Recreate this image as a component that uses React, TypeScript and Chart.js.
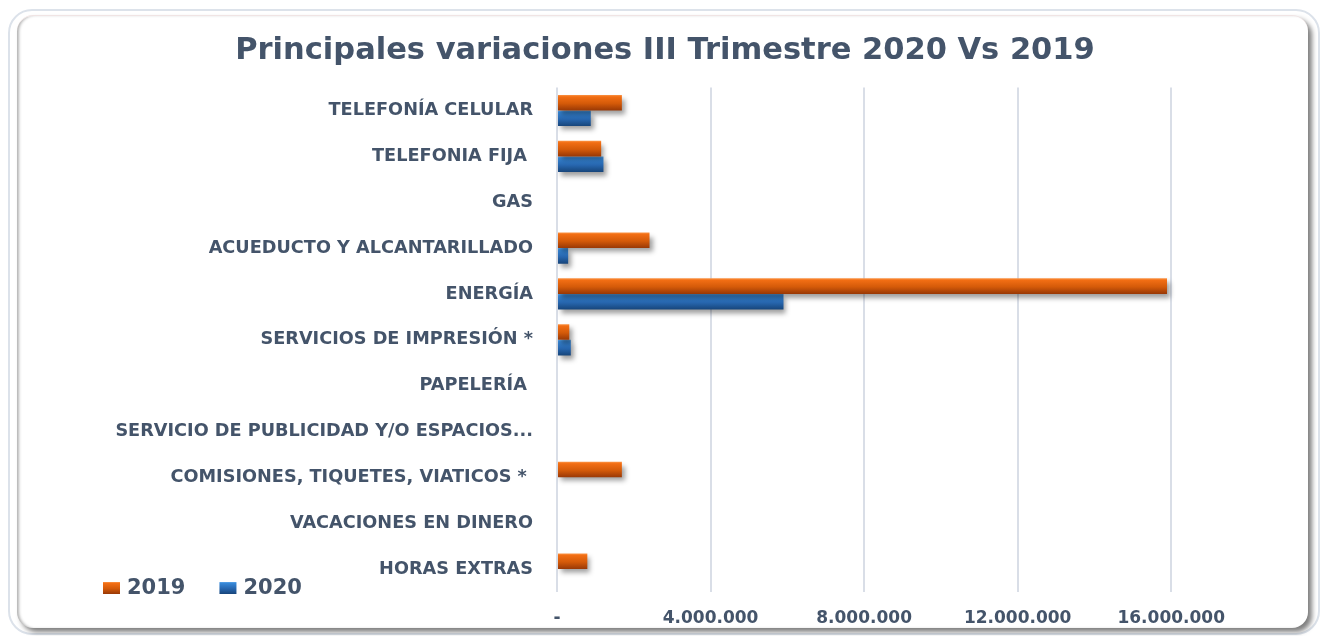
import React, { useEffect, useRef } from "react";
import { Chart, registerables } from "chart.js";

Chart.register(...registerables);

const categories = [
  "TELEFONÍA CELULAR",
  "TELEFONIA FIJA ",
  "GAS",
  "ACUEDUCTO Y ALCANTARILLADO",
  "ENERGÍA",
  "SERVICIOS DE IMPRESIÓN *",
  "PAPELERÍA ",
  "SERVICIO DE PUBLICIDAD Y/O ESPACIOS...",
  "COMISIONES, TIQUETES, VIATICOS * ",
  "VACACIONES EN DINERO",
  "HORAS EXTRAS",
];

const seriesLabels = ["2019", "2020"];

const values2019 = [1690000, 1150000, 0, 2410000, 15890000, 320000, 0, 0, 1690000, 0, 790000];
const values2020 = [880000, 1210000, 0, 290000, 5900000, 360000, 0, 0, 0, 0, 0];

const xTicks = [0, 4000000, 8000000, 12000000, 16000000];
const xMax = 18000000;

const TEXT = "#44546A";
const FONT = "'DejaVu Sans', sans-serif";

const gradientStops: [number, string][][] = [
  [
    [0, "#FB9446"],
    [0.12, "#F26E14"],
    [0.55, "#D45A09"],
    [1, "#983806"],
  ],
  [
    [0, "#5BA5EA"],
    [0.12, "#3787D6"],
    [0.55, "#2767B0"],
    [1, "#17457A"],
  ],
];

function makeGradient(ctx: CanvasRenderingContext2D, top: number, bottom: number, i: number) {
  const g = ctx.createLinearGradient(0, top, 0, bottom);
  gradientStops[i].forEach(([o, c]) => g.addColorStop(o, c));
  return g;
}

const barStylePlugin = {
  id: "barStyle",
  beforeDatasetsDraw(chart: any) {
    const ctx = chart.ctx as CanvasRenderingContext2D;
    chart.data.datasets.forEach((_ds: any, i: number) => {
      const meta = chart.getDatasetMeta(i);
      meta.data.forEach((el: any) => {
        const top = el.y - el.height / 2;
        const bottom = el.y + el.height / 2;
        if (el.options && !Object.isFrozen(el.options)) {
          el.options.backgroundColor = makeGradient(ctx, top, bottom, i);
        }
      });
    });
    ctx.save();
    ctx.shadowColor = "rgba(0,0,0,0.38)";
    ctx.shadowOffsetX = 3;
    ctx.shadowOffsetY = 4;
    ctx.shadowBlur = 5;
  },
  afterDatasetsDraw(chart: any) {
    chart.ctx.restore();
  },
};

const legendPlugin = {
  id: "customLegend",
  afterDraw(chart: any, _args: any, opts: any) {
    const ctx = chart.ctx as CanvasRenderingContext2D;
    let x = opts.x;
    const y = opts.y;
    ctx.save();
    ctx.font = `bold ${opts.fontSize}px ${FONT}`;
    ctx.textBaseline = "middle";
    ctx.textAlign = "left";
    chart.data.datasets.forEach((ds: any, i: number) => {
      ctx.fillStyle = makeGradient(ctx, y - opts.boxH / 2, y + opts.boxH / 2, i);
      ctx.fillRect(x, y - opts.boxH / 2, opts.boxW, opts.boxH);
      x += opts.boxW + opts.textGap;
      ctx.fillStyle = TEXT;
      ctx.fillText(ds.label, x, y + 1);
      x += ctx.measureText(ds.label).width + opts.itemGap;
    });
    ctx.restore();
  },
};

function formatTick(v: number) {
  if (v === 0) return "-";
  return String(Math.round(v)).replace(/\B(?=(\d{3})+(?!\d))/g, ".");
}

export default function App() {
  const canvasRef = useRef<HTMLCanvasElement | null>(null);

  useEffect(() => {
    if (!canvasRef.current) return;
    const baseColors = ["#E46C0A", "#2E75B6"];
    const chart = new Chart(canvasRef.current, {
      type: "bar",
      data: {
        labels: categories,
        datasets: [
          {
            label: seriesLabels[0],
            data: values2019,
            backgroundColor: () => baseColors[0],
            borderWidth: 0,
            barPercentage: 1,
            categoryPercentage: 0.68,
          },
          {
            label: seriesLabels[1],
            data: values2020,
            backgroundColor: () => baseColors[1],
            borderWidth: 0,
            barPercentage: 1,
            categoryPercentage: 0.68,
          },
        ],
      },
      options: {
        indexAxis: "y",
        responsive: false,
        animation: false,
        layout: { padding: { left: 82, right: 73, top: 0, bottom: 0 } },
        plugins: {
          legend: { display: false },
          tooltip: { enabled: false },
          title: {
            display: true,
            text: "Principales variaciones III Trimestre 2020 Vs 2019",
            color: TEXT,
            font: { family: FONT, size: 30.5, weight: "bold", lineHeight: 1.2 },
            padding: { top: 33, bottom: 18 },
          },
          customLegend: {
            x: 103,
            y: 588,
            boxW: 17,
            boxH: 12,
            textGap: 7,
            itemGap: 34,
            fontSize: 21,
          },
        } as any,
        scales: {
          x: {
            min: 0,
            max: xMax,
            afterBuildTicks: (scale: any) => {
              scale.ticks = xTicks.map((v) => ({ value: v }));
            },
            afterFit: (scale: any) => {
              scale.height = 44;
            },
            grid: {
              color: "#D9DEE7",
              lineWidth: 2,
              drawTicks: false,
            },
            border: { display: false },
            ticks: {
              color: TEXT,
              padding: 16,
              maxRotation: 0,
              autoSkip: false,
              font: { family: FONT, size: 17, weight: "bold" },
              callback: (v: any) => formatTick(Number(v)),
            },
          },
          y: {
            afterFit: (scale: any) => {
              scale.width = 557 - 82;
            },
            grid: { display: false, drawTicks: false },
            border: { display: false },
            ticks: {
              color: TEXT,
              padding: 24,
              autoSkip: false,
              font: { family: FONT, size: 17.7, weight: "bold" },
            },
          },
        },
      },
      plugins: [barStylePlugin, legendPlugin],
    } as any);
    return () => chart.destroy();
  }, []);

  return (
    <div
      style={{
        position: "absolute",
        left: 0,
        top: 0,
        width: 1321,
        height: 636,
        overflow: "hidden",
        background: "#ffffff",
      }}
    >
      <div
        style={{
          position: "absolute",
          left: 8,
          top: 9,
          width: 1308,
          height: 622,
          border: "2px solid #DCE2EA",
          borderRadius: 24,
          background: "#ffffff",
        }}
      />
      <div
        style={{
          position: "absolute",
          left: 17,
          top: 15,
          width: 1291,
          height: 612,
          borderRadius: 16,
          background: "#ffffff",
          borderTop: "1px solid #F0E4E4",
          boxShadow:
            "4px 4px 5px rgba(0,0,0,0.5), inset 3px 0 3px -1px rgba(0,0,0,0.3)",
        }}
      />
      <canvas
        ref={canvasRef}
        width={1321}
        height={636}
        style={{ position: "absolute", left: 0, top: 0, width: 1321, height: 636 }}
      />
    </div>
  );
}
